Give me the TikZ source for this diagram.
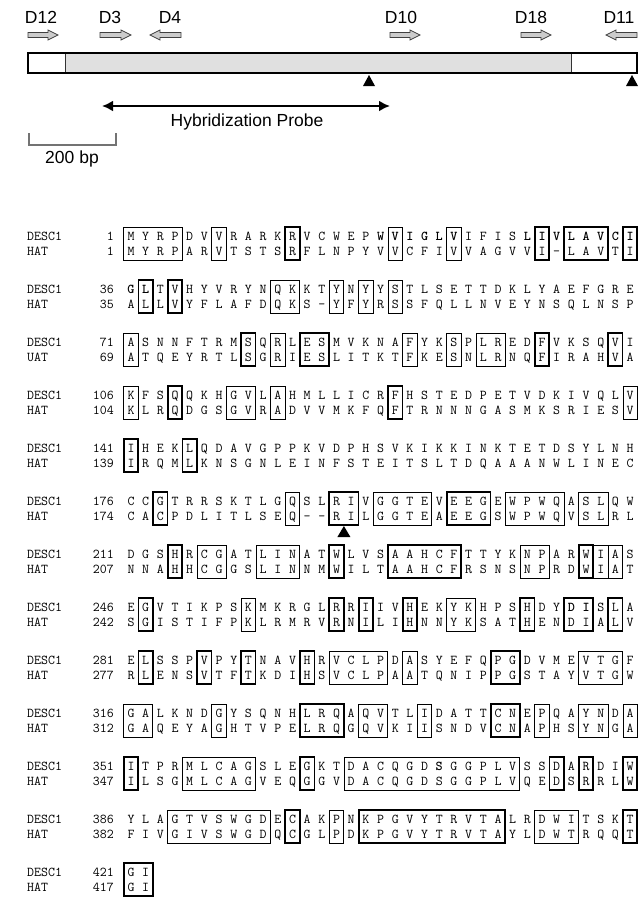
\documentclass[tikz,border=0pt]{standalone}
\usepackage{fontspec}
\newfontfamily\sansf{Liberation Sans}
\usetikzlibrary{arrows.meta}
\tikzset{
  res/.style={font=\ttfamily\fontsize{13.5}{14}\selectfont, inner sep=0pt, text height=8.2pt, text depth=0pt, anchor=center},
  lab/.style={font=\ttfamily\fontsize{13.5}{14}\selectfont, inner sep=0pt, text height=8.2pt, text depth=0pt, anchor=west},
  num/.style={font=\ttfamily\fontsize{13.5}{14}\selectfont, inner sep=0pt, text height=8.2pt, text depth=0pt, anchor=east},
  toplab/.style={font=\sansf\fontsize{17.5}{18}\selectfont, inner sep=0pt, text height=12.5pt, text depth=0pt, anchor=center},
  primer/.style={draw=black!75, fill=black!20, line width=0.7pt, line join=miter},
  probe/.style={line width=2.6pt, {Latex[length=11pt,width=11pt]}-{Latex[length=11pt,width=11pt]}},
  scalebar/.style={draw=black!55, line width=1.3pt},
  barline/.style={draw=black, line width=1.1pt},
}
\makeatletter
\newcount\rescnt
\newif\ifboldres
\newcommand\seqrow[3]{%
  \rescnt=0 \boldresfalse
  \@tfor\rc:=#3\do{%
    \if*\rc \boldrestrue \else
      \advance\rescnt by 1
      \node[res] (#1-\the\rescnt) at ({131+(\the\rescnt-1)*14.68},#2) {\ifboldres\bfseries\fi\rc};%
      \boldresfalse
    \fi}}
\makeatother
% #1 block id, #2 y, #3 n1, #4 n2, #5 seq1, #6 seq2, #7 second label
\newcommand\blk[7]{%
  \node[lab] (lda#1) at (27,#2) {DESC1};
  \node[num] (nda#1) at (114,#2) {#3};
  \node[lab] (lha#1) at (27,#2+15) {#7};
  \node[num] (nha#1) at (114,#2+15) {#4};
  \seqrow{d#1}{#2}{#5}
  \seqrow{h#1}{#2+15}{#6}
}
% right-pointing and left-pointing primer arrows (centre line y=35)
\newcommand\rarr[2]{\draw[primer] (#1,32.5) -- (#2-10,32.5) -- (#2-10,30) -- (#2,35) -- (#2-10,40) -- (#2-10,37.5) -- (#1,37.5) -- cycle;}
\newcommand\larr[2]{\draw[primer] (#2,32.5) -- (#1+10,32.5) -- (#1+10,30) -- (#1,35) -- (#1+10,40) -- (#1+10,37.5) -- (#2,37.5) -- cycle;}
\begin{document}
\begin{tikzpicture}[x=1pt,y=-1pt]
\fill[white] (0,0) rectangle (643,903);
\useasboundingbox (0,0) rectangle (643,903);
% ---------- gene map ----------
\node[toplab] (D12) at (41,17) {D12};
\node[toplab] (D3) at (110,17) {D3};
\node[toplab] (D4) at (170,17) {D4};
\node[toplab] (D10) at (401,17) {D10};
\node[toplab] (D18) at (531,17) {D18};
\node[toplab] (D11) at (619,17) {D11};
\rarr{28}{58}
\rarr{100}{131}
\larr{150}{181}
\rarr{390}{420}
\rarr{521}{551}
\larr{606}{637}
\fill[black!12] (65,53) rectangle (571,73);
\draw[black!80, line width=0.8pt] (65,53) -- (65,73) (571,53) -- (571,73);
\draw[barline] (28,53) rectangle (637,73);
\fill (363,86) -- (369,75) -- (375,86) -- cycle;
\fill (626,86) -- (632,75) -- (638,86) -- cycle;
\coordinate (hL) at (102,106);
\coordinate (hR) at (390,106);
\draw[probe] (hL) -- (hR);
\node[toplab] (hyb) at (247,120) {Hybridization Probe};
\draw[scalebar] (29,133) -- (29,145) -- (116,145) -- (116,133);
\node[toplab] (bp) at (72,157) {200 bp};
% ---------- alignment ----------
\blk{0}{236}{1}{1}{MYRPDVVRARKRVCWEP*W*V*I*G*L*VIFIS*L*I*V*L*A*V*C*I}{MYRPARVTSTSRFLNPYVVCFIVVAGVVI-LAVTI}{HAT}
\blk{1}{289}{36}{35}{*G*LTVHYVRYNQKKTYNYYSTLSETTDKLYAEFGRE}{ALLVYFLAFDQKS-YFYRSSFQLLNVEYNSQLNSP}{HAT}
\blk{2}{342}{71}{69}{ASNNFTRMSQRLESMVKNAFYKSPLREDFVKSQVI}{ATQEYRTLSGRIESLITKTFKESNLRNQFIRAHVA}{UAT}
\blk{3}{395}{106}{104}{KFSQQKHGVLAHMLLICRFHSTEDPETVDKIVQLV}{KLRQDGSGVRADVVMKFQFTRNNNGASMKSRIESV}{HAT}
\blk{4}{448}{141}{139}{IHEKLQDAVGPPKVDPHSVKIKKINKTETDSYLNH}{IRQMLKNSGNLEINFSTEITSLTDQAAANWLINEC}{HAT}
\blk{5}{501}{176}{174}{CCGTRRSKTLGQSLRIVGGTEVEEGEWPWQASLQW}{CACPDLITLSEQ--RILGGTEAEEGSWPWQVSLRL}{HAT}
\blk{6}{554}{211}{207}{DGSHRCGATLINATWLVSAAHCFTTYKNPARWIAS}{NNAHHCGGSLINNMWILTAAHCFRSNSNPRDWIAT}{HAT}
\blk{7}{607}{246}{242}{EGVTIKPSKMKRGLRRIIVHEKYKHPSHDY*D*ISLA}{SGISTIFPKLRMRVRNILIHNNYKSATHENDIALV}{HAT}
\blk{8}{660}{281}{277}{ELSSPVPYTNAVHRVCLPDASYEFQPGDVMEVTGF}{RLENSVTFTKDIHSVCLPAATQNIPPGSTAYVTGW}{HAT}
\blk{9}{713}{316}{312}{GALKNDGYSQNHLRQAQVTLIDATTCNEPQAYNDA}{GAQEYAGHTVPELRQGQVKIISNDVCNAPHSYNGA}{HAT}
\blk{10}{766}{351}{347}{ITPRMLCAGSLEGKTDACQGD*SGGPLVSSDARDIW}{ILSGMLCAGVEQGGVDACQGDSGGPLVQEDSRRLW}{HAT}
\blk{11}{819}{386}{382}{YLAGTVSWGDECAKPNKPGVYTRVTALRDWITSKT}{FIVGIVSWGDQCGLPDKPGVYTRVTAYLDWTRQQT}{HAT}
\blk{12}{872}{421}{417}{GI}{GI}{HAT}
% boxes: block/first/last/width
\foreach \k/\a/\b/\w in {
 0/1/4/0.8, 0/7/7/0.8, 0/12/12/1.7, 0/19/19/0.9, 0/23/23/0.9, 0/29/29/1.7, 0/31/33/1.7, 0/35/35/1.7,
 1/2/2/1.7, 1/4/4/1.7, 1/11/12/0.8, 1/15/15/0.8, 1/17/17/0.8, 1/19/19/0.8,
 2/1/1/0.8, 2/9/9/1.7, 2/11/11/0.8, 2/13/14/1.7, 2/20/20/0.8, 2/23/23/0.8, 2/25/26/0.8, 2/29/29/1.7, 2/34/34/1.7,
 3/1/1/0.8, 3/4/4/1.7, 3/8/9/0.8, 3/11/11/0.8, 3/19/19/1.7, 3/35/35/0.8,
 4/1/1/1.7, 4/5/5/1.7,
 5/3/3/1.7, 5/12/12/0.8, 5/15/16/1.7, 5/18/21/0.8, 5/23/25/1.7, 5/27/30/0.8, 5/32/33/0.8,
 6/4/4/1.7, 6/6/7/0.8, 6/10/12/0.8, 6/15/15/1.7, 6/19/23/1.7, 6/28/29/0.8, 6/32/32/1.7, 6/33/33/0.8, 6/34/34/0.8,
 7/2/2/1.7, 7/9/9/0.8, 7/15/15/1.7, 7/17/17/1.7, 7/20/20/1.7, 7/23/24/0.8, 7/28/28/1.7, 7/31/32/1.7, 7/34/34/1.7,
 8/2/2/1.7, 8/6/6/1.7, 8/9/9/1.7, 8/13/13/1.7, 8/15/18/0.8, 8/20/20/0.8, 8/26/27/1.7, 8/32/34/0.8,
 9/1/2/0.8, 9/7/7/0.8, 9/13/15/1.7, 9/17/18/0.8, 9/21/21/0.8, 9/26/27/1.7, 9/29/29/0.8, 9/32/33/0.8, 9/35/35/0.8,
 10/1/1/1.7, 10/5/9/0.8, 10/13/13/1.7, 10/16/27/0.8, 10/30/30/1.7, 10/32/32/1.7, 10/35/35/1.7,
 11/4/10/0.8, 11/12/12/1.7, 11/15/15/0.8, 11/17/26/1.7, 11/29/31/0.8, 11/35/35/1.7,
 12/1/2/1.7}
 \draw[line width=\w pt] ({131+(\a-1)*14.68-7.2},{236+53*\k-9}) rectangle ({131+(\b-1)*14.68+7.2},{236+53*\k+24});
% cleavage-site triangle
\coordinate (tri) at (343.9,526);
\fill (tri) -- ++(6.5,11) -- ++(-13,0) -- cycle;
\end{tikzpicture}
\end{document}
